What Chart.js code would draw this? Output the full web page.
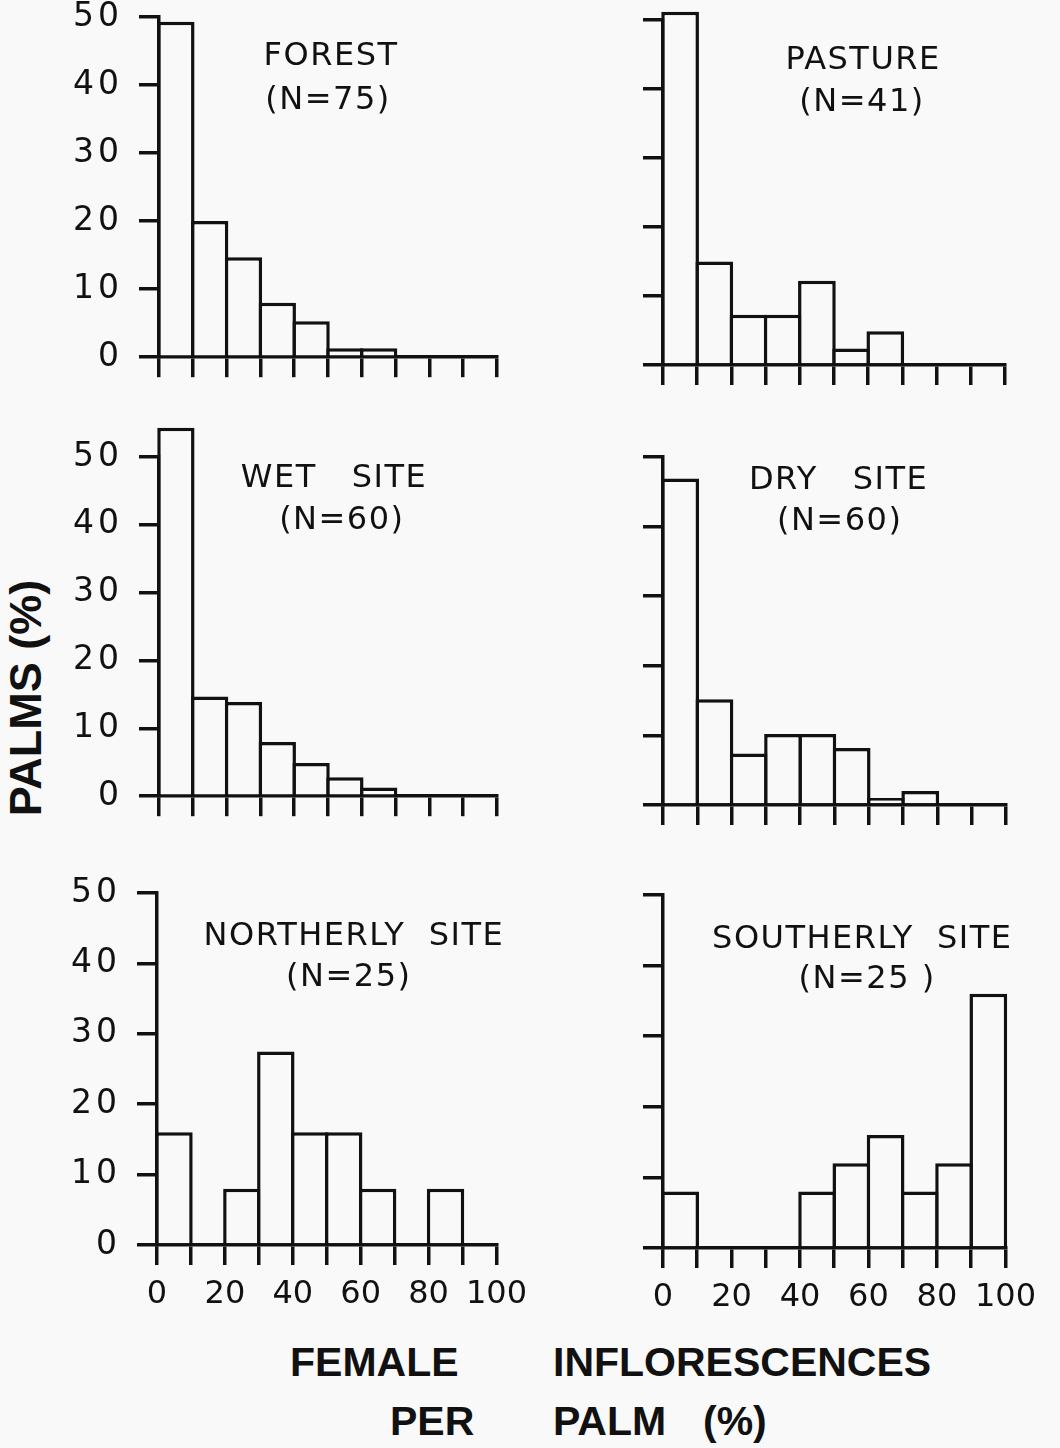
<!DOCTYPE html>
<html>
<head>
<meta charset="utf-8">
<script src="https://cdn.jsdelivr.net/npm/chart.js@4.4.1/dist/chart.umd.min.js"></script>
<style>
  body { margin: 0; background: #f9f9f9; width: 1060px; height: 1448px; position: relative; overflow: hidden; }
  .panel { position: absolute; }
  .word { position: absolute; font-family: 'Liberation Sans', Arial, sans-serif; font-weight: bold; font-size: 41px; line-height: 42px; color: #111; white-space: pre; }
  #yTitle { left: 26px; top: 698px; font-size: 45px; transform: translate(-50%, -50%) rotate(-90deg); }
</style>
</head>
<body>

<div class="word" id="yTitle">PALMS (%)</div>
<div class="word" style="left:290px; top:1341px;">FEMALE</div>
<div class="word" style="left:553px; top:1341px;">INFLORESCENCES</div>
<div class="word" style="left:390px; top:1400px;">PER</div>
<div class="word" style="left:553px; top:1400px;">PALM</div>
<div class="word" style="left:703px; top:1400px;">(%)</div>

<script>
// ====================== DATA ======================
// bins of 10% female inflorescences, plotted at bin centres
const binCenters = [5, 15, 25, 35, 45, 55, 65, 75, 85, 95];

// percent of palms in each bin
const forestPct   = [49.3, 20, 14.7, 8, 5.3, 1.3, 1.3, 0, 0, 0];
const pasturePct  = [51.2, 15, 7.3, 7.3, 12.2, 2.4, 4.9, 0, 0, 0];
const wetPct      = [54.3, 14.7, 13.9, 8, 4.9, 2.8, 1.3, 0, 0, 0];
const dryPct      = [46.9, 15.2, 7.4, 10.2, 10.2, 8.2, 1, 2, 0, 0];
const northPct    = [16, 0, 8, 27.5, 16, 16, 8, 0, 8, 0];
const southPct    = [8, 0, 0, 0, 8, 12, 16, 8, 12, 36];

const panelNames = ["FOREST", "PASTURE", "WET   SITE", "DRY   SITE", "NORTHERLY  SITE", "SOUTHERLY  SITE"];
const panelCounts = ["(N=75)", "(N=41)", "(N=60)", "(N=60)", "(N=25)", "(N=25 )"];

const yMax = 50;
const yStep = 10;
const xStep = 10;
const xLabelStep = 20;

// ====================== STYLE ======================
const INK = "#111";
const PAPER = "#f9f9f9";
const LINE = 3.5;
const FONT = "'DejaVu Sans', sans-serif";
const PT = 40, PR = 40;

// plot area of each panel: [left, top(=50%), width, height]
const panels = [
  { values: forestPct,  area: [159, 17, 338, 346], yLabels: true,  xLabels: false, note: [50.9, 44.1, 50, 37.7] },
  { values: pasturePct, area: [663, 20, 342, 345], yLabels: false, xLabels: false, note: [58.5, 44.1, 58.2, 38] },
  { values: wetPct,     area: [159, 457, 338, 345], yLabels: true,  xLabels: false, note: [51.8, 46.8, 54.1, 40.6] },
  { values: dryPct,     area: [663, 457, 343, 348], yLabels: false, xLabels: false, note: [51.2, 46.6, 51.5, 40.7] },
  { values: northPct,   area: [157, 893, 340, 352], yLabels: true,  xLabels: true,  note: [58, 43.8, 56.5, 37.9] },
  { values: southPct,   area: [663, 895, 343, 353], yLabels: false, xLabels: true,  note: [58.2, 43.6, 59.6, 38] }
];

// ====================== PLUGINS ======================
// y tick labels are lettered wide in the original
const wideYLabels = {
  id: "wideYLabels",
  afterLayout(chart) {
    const ys = chart.scales.y;
    if (ys._widePatched) return;
    const orig = ys.drawLabels;
    ys.drawLabels = function (area) {
      this.ctx.save();
      this.ctx.letterSpacing = "4px";
      orig.call(this, area);
      this.ctx.restore();
    };
    ys._widePatched = true;
  }
};

const panelNote = {
  id: "panelNote",
  afterDatasetsDraw(chart, args, opts) {
    if (!opts.lines) return;
    const { ctx, scales: { x, y } } = chart;
    ctx.save();
    ctx.fillStyle = INK;
    ctx.font = "32px " + FONT;
    ctx.textAlign = "center";
    ctx.textBaseline = "middle";
    ctx.letterSpacing = "1.5px";
    opts.lines.forEach(l => ctx.fillText(l.text, x.getPixelForValue(l.x), y.getPixelForValue(l.y)));
    ctx.restore();
  }
};

// ====================== BUILD CHARTS ======================
panels.forEach((p, i) => {
  const [L, T, W, H] = p.area;
  const YW = p.yLabels ? 110 : 30;
  const XH = p.xLabels ? 80 : 30;

  const box = document.createElement("div");
  box.className = "panel";
  box.style.left = (L - YW) + "px";
  box.style.top = (T - PT) + "px";
  const canvas = document.createElement("canvas");
  canvas.width = YW + W + PR;
  canvas.height = PT + H + XH;
  canvas.style.width = canvas.width + "px";
  canvas.style.height = canvas.height + "px";
  box.appendChild(canvas);
  document.body.appendChild(box);

  new Chart(canvas.getContext("2d"), {
    type: "bar",
    data: {
      datasets: [{
        data: binCenters.map((x, k) => ({ x, y: p.values[k] })),
        backgroundColor: PAPER,
        borderColor: INK,
        borderWidth: LINE,
        borderSkipped: "start",
        categoryPercentage: 1,
        barPercentage: 1 + LINE / (W / 10),
        clip: false
      }]
    },
    options: {
      responsive: false,
      animation: false,
      events: [],
      layout: { padding: { top: PT, right: PR, left: 0, bottom: 0 } },
      plugins: {
        legend: { display: false },
        tooltip: { enabled: false },
        panelNote: {
          lines: [
            { text: panelNames[i], x: p.note[0], y: p.note[1] },
            { text: panelCounts[i], x: p.note[2], y: p.note[3] }
          ]
        }
      },
      scales: {
        x: {
          type: "linear",
          min: 0,
          max: 100,
          offset: false,
          ticks: {
            stepSize: xStep,
            display: p.xLabels,
            autoSkip: false,
            maxRotation: 0,
            minRotation: 0,
            padding: 10,
            color: INK,
            font: { family: FONT, size: 32 },
            callback: v => (v % xLabelStep === 0 ? String(v) : "")
          },
          grid: { offset: false, drawOnChartArea: false, drawTicks: true, tickLength: 20, lineWidth: LINE, color: INK },
          border: { display: true, width: LINE, color: INK },
          afterFit: s => { s.height = XH; }
        },
        y: {
          min: 0,
          max: yMax,
          ticks: {
            stepSize: yStep,
            display: p.yLabels,
            padding: 16,
            color: INK,
            font: { family: FONT, size: 33 }
          },
          grid: { drawOnChartArea: false, drawTicks: true, tickLength: 20, lineWidth: LINE, color: INK },
          border: { display: true, width: LINE, color: INK },
          afterFit: s => { s.width = YW; }
        }
      }
    },
    plugins: [wideYLabels, panelNote]
  });
});
</script>
</body>
</html>
